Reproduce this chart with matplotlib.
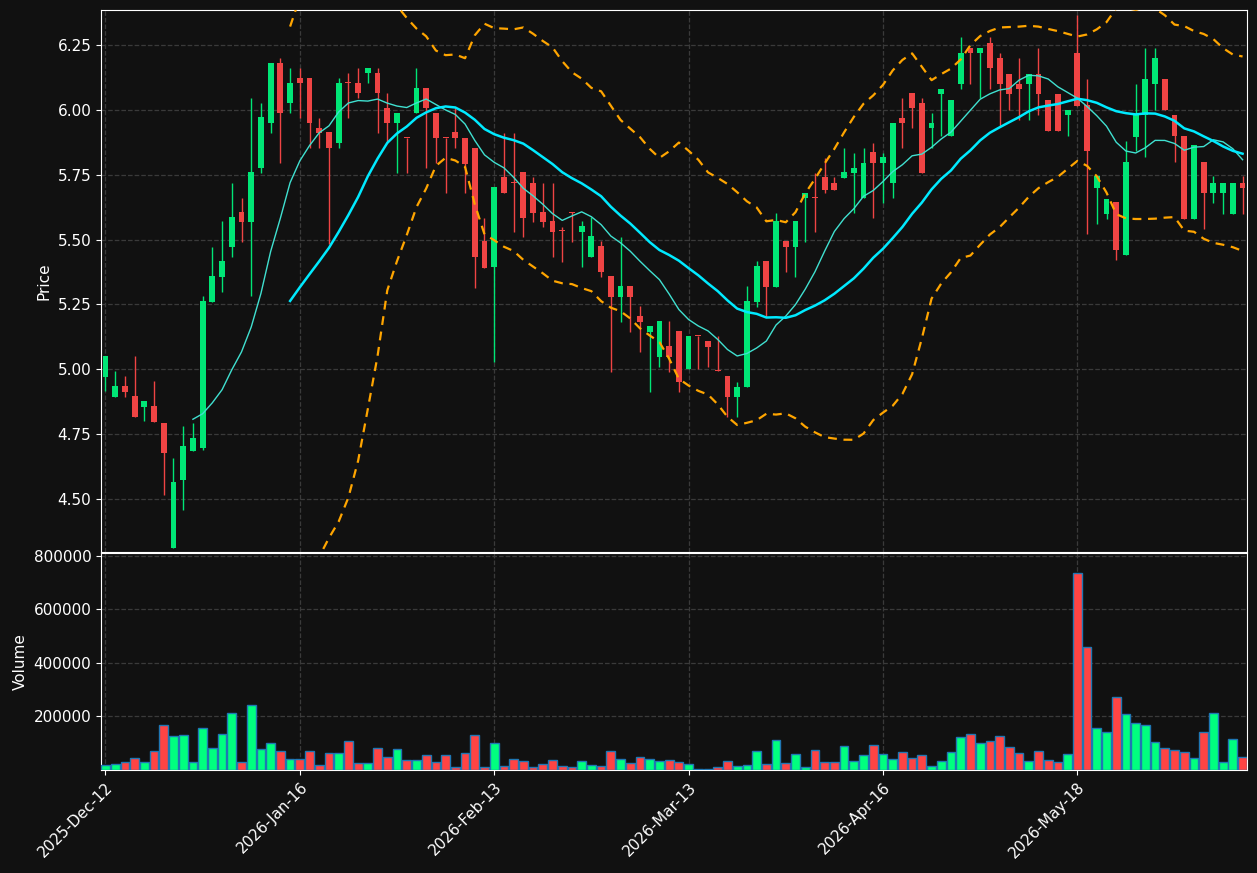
import matplotlib
matplotlib.use("Agg")
import matplotlib.pyplot as plt
import numpy as np
import pandas as pd

# OHLC values, one entry per trading day
opens = [4.972, 4.895, 4.936, 4.897, 4.856, 4.859, 4.794, 4.311, 4.572, 4.687,
         4.695, 5.260, 5.356, 5.472, 5.605, 5.568, 5.776, 5.949, 6.182, 6.026,
         6.124, 6.124, 5.931, 5.913, 5.872, 6.104, 6.104, 6.141, 6.142, 6.009,
         5.949, 5.893, 5.987, 6.086, 5.990, 5.893, 5.913, 5.892, 5.854, 5.494,
         5.395, 5.740, 5.720, 5.760, 5.720, 5.605, 5.571, 5.533, 5.605, 5.530,
         5.433, 5.474, 5.359, 5.279, 5.321, 5.205, 5.145, 5.049, 5.090, 5.147,
         5.000, 5.129, 5.109, 4.993, 4.974, 4.892, 4.933, 5.260, 5.417, 5.318,
         5.494, 5.472, 5.660, 5.663, 5.740, 5.720, 5.738, 5.756, 5.662, 5.836,
         5.795, 5.718, 5.970, 6.067, 6.028, 5.929, 6.060, 5.899, 6.099, 6.240,
         6.218, 6.259, 6.201, 6.140, 6.101, 6.099, 6.140, 6.040, 6.063, 5.980,
         6.220, 6.020, 5.699, 5.599, 5.644, 5.440, 5.897, 5.979, 6.099, 6.121,
         5.982, 5.901, 5.581, 5.801, 5.679, 5.679, 5.600, 5.720]
highs = [5.051, 4.994, 4.973, 5.050, 4.878, 4.955, 4.794, 4.658, 4.781, 4.792,
         5.282, 5.473, 5.571, 5.719, 5.662, 6.046, 6.027, 6.182, 6.201, 6.162,
         6.160, 6.124, 5.968, 5.913, 6.123, 6.142, 6.160, 6.162, 6.162, 6.065,
         5.990, 5.893, 6.162, 6.086, 5.990, 5.893, 6.009, 5.892, 5.854, 5.585,
         5.702, 5.912, 5.912, 5.760, 5.740, 5.719, 5.719, 5.549, 5.605, 5.571,
         5.587, 5.494, 5.359, 5.510, 5.321, 5.244, 5.167, 5.186, 5.186, 5.147,
         5.128, 5.129, 5.109, 5.128, 4.974, 4.953, 5.320, 5.417, 5.417, 5.604,
         5.494, 5.571, 5.681, 5.758, 5.815, 5.740, 5.854, 5.835, 5.854, 5.873,
         5.835, 5.951, 6.047, 6.067, 6.047, 5.990, 6.082, 6.040, 6.282, 6.240,
         6.238, 6.282, 6.220, 6.140, 6.201, 6.140, 6.240, 6.040, 6.063, 6.001,
         6.366, 6.119, 5.744, 5.656, 5.644, 5.882, 6.100, 6.238, 6.238, 6.121,
         5.982, 5.901, 5.863, 5.801, 5.744, 5.720, 5.720, 5.744]
lows = [4.915, 4.895, 4.895, 4.818, 4.800, 4.799, 4.515, 4.311, 4.458, 4.687,
        4.690, 5.260, 5.300, 5.433, 5.492, 5.281, 5.756, 5.910, 5.795, 5.987,
        5.968, 5.854, 5.854, 5.482, 5.854, 5.967, 6.046, 6.104, 5.910, 5.872,
        5.758, 5.758, 5.987, 5.777, 5.795, 5.678, 5.854, 5.678, 5.315, 5.392,
        5.030, 5.680, 5.530, 5.510, 5.568, 5.549, 5.433, 5.414, 5.491, 5.395,
        5.433, 5.356, 4.991, 5.183, 5.145, 5.068, 4.914, 5.010, 4.991, 4.914,
        5.000, 5.000, 5.010, 4.992, 4.815, 4.815, 4.933, 5.241, 5.203, 5.318,
        5.376, 5.356, 5.491, 5.529, 5.680, 5.690, 5.738, 5.604, 5.662, 5.585,
        5.642, 5.660, 5.853, 5.929, 5.756, 5.853, 5.901, 5.899, 6.079, 6.099,
        6.047, 6.079, 5.938, 6.000, 5.962, 5.962, 5.981, 5.918, 5.918, 5.900,
        6.017, 5.523, 5.562, 5.580, 5.423, 5.440, 5.841, 5.820, 6.000, 5.999,
        5.799, 5.581, 5.581, 5.542, 5.641, 5.600, 5.600, 5.600]
closes = [5.051, 4.936, 4.914, 4.818, 4.878, 4.799, 4.676, 4.564, 4.705, 4.736,
          5.263, 5.359, 5.417, 5.586, 5.568, 5.759, 5.971, 6.182, 5.987, 6.105,
          6.103, 5.949, 5.910, 5.853, 6.105, 6.103, 6.064, 6.162, 6.064, 5.949,
          5.990, 5.892, 6.086, 6.007, 5.892, 5.892, 5.892, 5.792, 5.433, 5.392,
          5.702, 5.680, 5.719, 5.583, 5.603, 5.568, 5.530, 5.532, 5.604, 5.551,
          5.513, 5.376, 5.279, 5.321, 5.279, 5.183, 5.167, 5.186, 5.049, 4.953,
          5.128, 5.128, 5.088, 4.992, 4.892, 4.933, 5.263, 5.397, 5.318, 5.571,
          5.472, 5.571, 5.681, 5.662, 5.690, 5.690, 5.759, 5.778, 5.797, 5.795,
          5.817, 5.951, 5.949, 6.006, 5.756, 5.951, 6.082, 6.040, 6.220, 6.218,
          6.238, 6.160, 6.099, 6.060, 6.079, 6.140, 6.060, 5.918, 5.918, 6.001,
          6.017, 5.841, 5.744, 5.656, 5.459, 5.801, 5.985, 6.121, 6.201, 5.999,
          5.899, 5.581, 5.863, 5.679, 5.720, 5.720, 5.720, 5.699]
volumes = [17500, 21000, 29000, 44000, 31000, 70000, 167500, 126000, 130000, 31000,
           156000, 81000, 134000, 212500, 31000, 242500, 77500, 100000, 70000, 40000,
           40000, 70000, 17500, 62500, 62500, 107500, 25000, 25000, 81000, 47500,
           77500, 36000, 36000, 55000, 29000, 55000, 10000, 62500, 130000, 10000,
           100000, 14000, 40000, 32500, 10000, 21000, 36000, 14000, 10000, 32500,
           17500, 14000, 70000, 40000, 25000, 47500, 40000, 32500, 36000, 29000,
           21000, 2500, 2500, 10000, 32500, 14000, 17500, 70000, 21000, 111000,
           25000, 59000, 10000, 74000, 29000, 29000, 89000, 32500, 55000, 92500,
           59000, 40000, 66000, 44000, 55000, 14000, 32500, 66000, 122500, 134000,
           100000, 107500, 126000, 85000, 62500, 32500, 70000, 36000, 29000, 59000,
           737500, 460000, 156000, 141000, 272500, 209000, 175000, 167500, 104000, 81000,
           74000, 66000, 44000, 141000, 212500, 29000, 115000, 47500]

tick_step = 20
tick_labels = ["2025-Dec-12", "2026-Jan-16", "2026-Feb-13",
               "2026-Mar-13", "2026-Apr-16", "2026-May-18"]

BG = "#111111"
UP, DOWN = "#00e676", "#ef4444"
VOL_UP, VOL_DOWN = "#00ff7f", "#ff4444"

df = pd.DataFrame({"open": opens, "high": highs, "low": lows,
                   "close": closes, "volume": volumes})
x = np.arange(len(df))
up = df["close"] >= df["open"]
colors = np.where(up, UP, DOWN)

ma10 = df["close"].rolling(10).mean()
ma20 = df["close"].rolling(20).mean()
sd20 = df["close"].rolling(20).std()
bb_up = ma20 + 2 * sd20
bb_lo = ma20 - 2 * sd20

fig = plt.figure(figsize=(12.57, 8.73), dpi=100, facecolor=BG)
ax = fig.add_axes([0.0804, 0.3677, 0.9116, 0.6208])
axv = fig.add_axes([0.0804, 0.118, 0.9116, 0.2486], sharex=ax)

for a in (ax, axv):
    a.set_facecolor(BG)
    for s in a.spines.values():
        s.set_color("white")
    a.tick_params(colors="white", labelsize=11)
    a.grid(True, color="#3a3a3a", linestyle="--", linewidth=0.9)
    a.set_axisbelow(True)

# candles
ax.vlines(x, df["low"], df["high"], colors=colors, linewidth=1, zorder=2)
body = (df["close"] - df["open"]).abs().clip(lower=0.004)
ax.bar(x, body, bottom=df[["open", "close"]].min(axis=1), width=0.6,
       color=colors, zorder=3)

ax.plot(x, ma10, color="#40e0d0", linewidth=1, zorder=4)
ax.plot(x, ma20, color="#00eaff", linewidth=1.8, zorder=4)
ax.plot(x, bb_up, color="orange", linestyle=(0, (4, 3)), linewidth=1.6, zorder=4)
ax.plot(x, bb_lo, color="orange", linestyle=(0, (4, 3)), linewidth=1.6, zorder=4)

ax.set_ylim(4.296, 6.385)
ax.set_yticks(np.arange(4.5, 6.26, 0.25))
ax.yaxis.set_major_formatter(matplotlib.ticker.FormatStrFormatter("%.2f"))
ax.set_ylabel("Price", color="white", fontsize=11)
ax.tick_params(axis="x", labelbottom=False)

# volume
axv.bar(x, df["volume"], width=0.9, color=np.where(up, VOL_UP, VOL_DOWN),
        edgecolor="#1f77b4", linewidth=1, zorder=3)
axv.set_ylim(0, df["volume"].max() * 1.1)
axv.set_yticks([200000, 400000, 600000, 800000])
axv.set_ylabel("Volume", color="white", fontsize=11)

axv.set_xlim(-0.45, len(df) - 1 + 0.45)
axv.set_xticks(x[::tick_step])
axv.set_xticklabels(tick_labels, rotation=45, ha="right", rotation_mode="anchor")

fig.savefig("out.png", dpi=100, facecolor=BG)
